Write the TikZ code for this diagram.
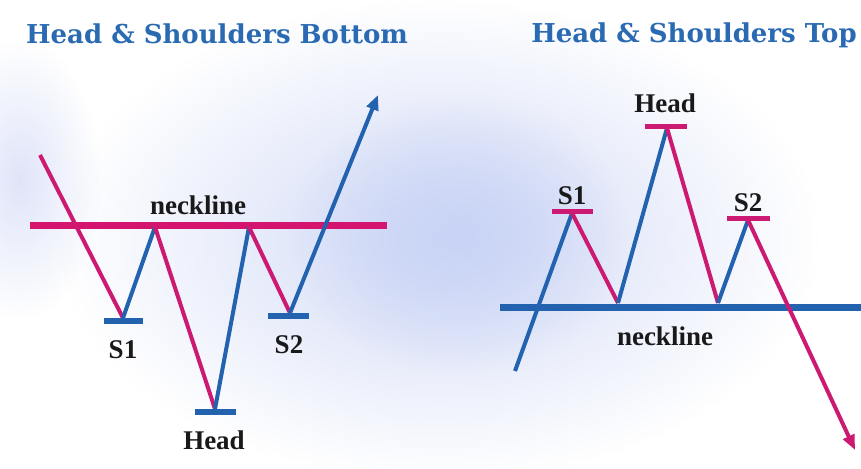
\documentclass[tikz,border=0pt]{standalone}
\usepackage{fontspec}
\setmainfont{Liberation Serif}
\newfontfamily\titlefont{DejaVu Serif}
\usetikzlibrary{arrows.meta,fadings}
\tikzfading[name=glowfade, inner color=transparent!0, outer color=transparent!100]
\definecolor{hsblue}{HTML}{2262AE}
\definecolor{hspink}{HTML}{CC1A72}
\definecolor{neckpink}{HTML}{D4146F}
\definecolor{titleblue}{HTML}{2A6AB2}
\definecolor{glow}{HTML}{C9D3F5}
\tikzset{
  upleg/.style={draw=hsblue, line width=4pt},
  downleg/.style={draw=hspink, line width=4pt},
  bluebar/.style={draw=hsblue, line width=6pt},
  pinkbar/.style={draw=hspink, line width=5pt},
  necklineL/.style={draw=neckpink, line width=7pt},
  necklineR/.style={draw=hsblue, line width=7pt},
  ttl/.style={text=titleblue, font=\titlefont\bfseries\fontsize{26}{30}\selectfont, inner sep=0pt},
  lbl/.style={text=black!90, font=\bfseries\fontsize{27}{30}\selectfont, inner sep=0pt},
  tip/.style={-{Triangle[length=15pt,width=12pt]}}
}
\begin{document}
\begin{tikzpicture}[x=1pt,y=-1pt]
\useasboundingbox (0,0) rectangle (861,468);
\fill[white] (0,0) rectangle (861,468);
% background glows
\fill[glow!85, path fading=glowfade] (440,240) ellipse (380 and 240);
\fill[glow, path fading=glowfade] (460,235) ellipse (170 and 140);
\fill[glow!60, path fading=glowfade] (20,180) ellipse (80 and 140);

% titles
\node[ttl] (t1) at (217,34) {Head \& Shoulders Bottom};
\node[ttl] (t2) at (694,35) {Head \& Shoulders Top};

% ---------- left: bottom ----------
\coordinate (Lnl) at (30,225);
\coordinate (Lnr) at (387,225);
\draw[necklineL] (Lnl) -- (Lnr);
\coordinate (Lstart) at (40,155);
\coordinate (LS1) at (123,318);
\coordinate (LP1) at (155,227);
\coordinate (LH) at (215,409);
\coordinate (LP2) at (249,227);
\coordinate (LS2) at (290,313);
\coordinate (Lend) at (378,95);
\draw[downleg] (Lstart) -- (LS1);
\draw[upleg] (LS1) -- (LP1);
\draw[downleg] (LP1) -- (LH);
\draw[upleg] (LH) -- (LP2);
\draw[downleg] (LP2) -- (LS2);
\draw[upleg, tip] (LS2) -- (Lend);
\coordinate (LbS1a) at (104,321); \coordinate (LbS1b) at (143,321);
\coordinate (LbHa) at (195,412); \coordinate (LbHb) at (236,412);
\coordinate (LbS2a) at (268,316); \coordinate (LbS2b) at (309,316);
\draw[bluebar] (LbS1a) -- (LbS1b);
\draw[bluebar] (LbHa) -- (LbHb);
\draw[bluebar] (LbS2a) -- (LbS2b);
\node[lbl] (lneck) at (198,205) {neckline};
\node[lbl] (ls1) at (123,350) {S1};
\node[lbl] (ls2) at (289,345) {S2};
\node[lbl] (lhead) at (214,440) {Head};

% ---------- right: top ----------
\coordinate (Rnl) at (500,307);
\coordinate (Rnr) at (861,307);
\draw[necklineR] (Rnl) -- (Rnr);
\coordinate (Rstart) at (515,371);
\coordinate (RS1) at (572,213);
\coordinate (RT1) at (618,303);
\coordinate (RH) at (667,128);
\coordinate (RT2) at (718,303);
\coordinate (RS2) at (748,220);
\coordinate (Rend) at (855,450);
\draw[upleg] (Rstart) -- (RS1);
\draw[downleg] (RS1) -- (RT1);
\draw[upleg] (RT1) -- (RH);
\draw[downleg] (RH) -- (RT2);
\draw[upleg] (RT2) -- (RS2);
\draw[downleg, tip] (RS2) -- (Rend);
\coordinate (RbS1a) at (552,211); \coordinate (RbS1b) at (593,211);
\coordinate (RbHa) at (645,126); \coordinate (RbHb) at (687,126);
\coordinate (RbS2a) at (727,218); \coordinate (RbS2b) at (770,218);
\draw[pinkbar] (RbS1a) -- (RbS1b);
\draw[pinkbar] (RbHa) -- (RbHb);
\draw[pinkbar] (RbS2a) -- (RbS2b);
\node[lbl] (rhead) at (665,103) {Head};
\node[lbl] (rs1) at (572,196) {S1};
\node[lbl] (rs2) at (748,203) {S2};
\node[lbl] (rneck) at (665,336) {neckline};
\end{tikzpicture}
\end{document}
